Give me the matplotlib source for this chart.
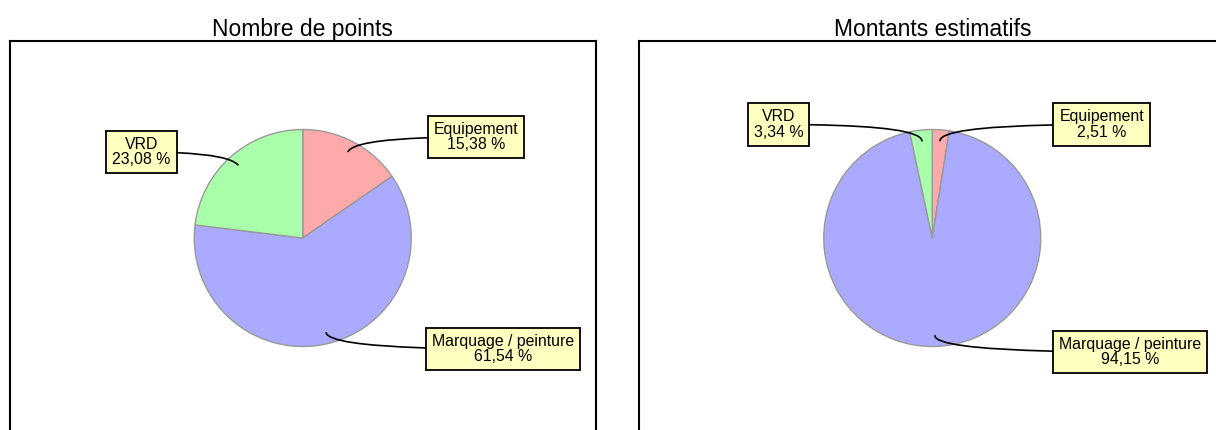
import numpy as np
import matplotlib
matplotlib.use("Agg")
import matplotlib.pyplot as plt

plt.rcParams["font.family"] = ["Liberation Sans", "DejaVu Sans"]

# données
categories = ["Equipement", "Marquage / peinture", "VRD"]
points_pct = [15.38, 61.54, 23.08]
montants_pct = [2.51, 94.15, 3.34]
titles = ["Nombre de points", "Montants estimatifs"]
colors = ["#ffaaaa", "#aaaaff", "#aaffaa"]

# mise en page (pixels)
FIG_W, FIG_H = 1216, 430
AX_W, AX_H = 586.5, 394
AX_LEFT = [9.5, 639]
AX_TOP = 41
RADIUS = 108.5
LABEL_FS = 11.4
BOX_PAD = 0.38
# position des étiquettes (bord de boîte, centre vertical) relative au centre du camembert
label_pos = [
    [("left", 125, 101), ("left", 123, -111), ("right", -126, 86)],
    [("left", 121, 113.5), ("left", 121, -114), ("right", -123, 113.5)],
]


def fmt(v):
    return f"{v:.2f}".replace(".", ",") + " %"


fig = plt.figure(figsize=(FIG_W / 100, FIG_H / 100), dpi=100)
pad_px = BOX_PAD * LABEL_FS * 100 / 72

for i, values in enumerate([points_pct, montants_pct]):
    ax = fig.add_axes([AX_LEFT[i] / FIG_W, (FIG_H - AX_TOP - AX_H) / FIG_H,
                       AX_W / FIG_W, AX_H / FIG_H])
    wedges, _ = ax.pie(values, colors=colors, startangle=90, counterclock=False,
                       radius=RADIUS, center=(0, 0), frame=True,
                       wedgeprops=dict(edgecolor="#999999", linewidth=1.0))
    ax.set_xlim(-AX_W / 2, AX_W / 2)
    ax.set_ylim(-AX_H / 2, AX_H / 2)
    ax.set_aspect("auto")
    ax.set_xticks([])
    ax.set_yticks([])
    for s in ax.spines.values():
        s.set_linewidth(1.5)
        s.set_color("black")
    ax.set_title(titles[i], fontsize=16.5, pad=3)

    for w, cat, v, (side, bx, by) in zip(wedges, categories, values, label_pos[i]):
        mid = np.deg2rad((w.theta1 + w.theta2) / 2)
        anchor = (0.9 * RADIUS * np.cos(mid), 0.9 * RADIUS * np.sin(mid))
        tx = bx + pad_px if side == "left" else bx - pad_px
        ax.annotate(f"{cat}\n{fmt(v)}", xy=anchor, xytext=(tx, by),
                    ha=side, va="center", multialignment="center",
                    fontsize=LABEL_FS, linespacing=1.05,
                    bbox=dict(boxstyle=f"square,pad={BOX_PAD}", fc="#ffffc0",
                              ec="black", lw=1.3),
                    arrowprops=dict(arrowstyle="-", color="black", lw=1.2,
                                    shrinkA=0, shrinkB=0,
                                    connectionstyle=f"angle3,angleA=0,angleB={np.rad2deg(mid):.1f}"))

fig.savefig("out.png", dpi=100)
